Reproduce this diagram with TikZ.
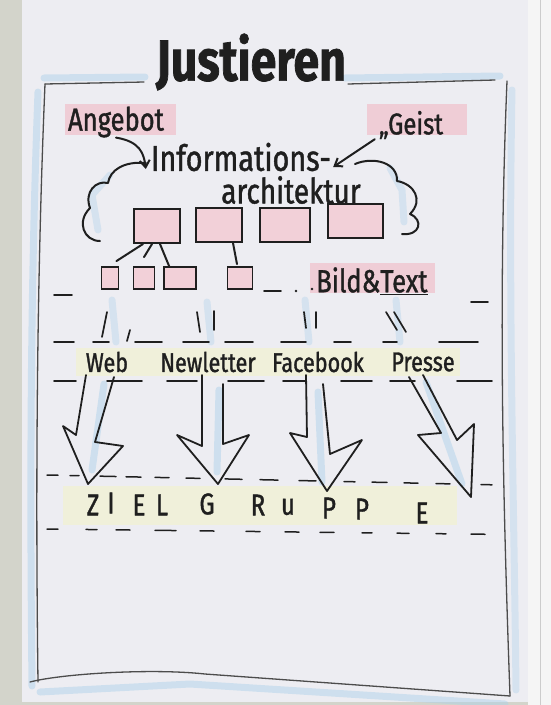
\documentclass[tikz,border=0pt]{standalone}
\usepackage{fontspec}
\usepackage{tikz}
\usetikzlibrary{positioning, arrows.meta, calc}
\newfontfamily\hand[FakeStretch=0.8, FakeBold=1.2]{Fira Sans}
\definecolor{wallc}{HTML}{D3D4CB}
\definecolor{paperc}{HTML}{EDEDF2}
\definecolor{inkc}{HTML}{1F1F1F}
\definecolor{pinkhl}{HTML}{F0C6D0}
\definecolor{boxpink}{HTML}{F2D0D8}
\definecolor{markblue}{HTML}{A9D0EA}
\definecolor{yellowhl}{HTML}{F0F0DA}
\definecolor{boardc}{HTML}{F5F5F5}

\begin{document}
\begin{tikzpicture}[x=1pt, y=-1pt,
  ink/.style={draw=inkc, line width=2pt, line cap=round, line join=round},
  frameln/.style={draw=inkc!80, line width=1.3pt, line cap=round, line join=round},
  dsh/.style={draw=inkc, line width=1.8pt, line cap=round},
  bluemk/.style={draw=markblue, line width=7pt, line cap=round, opacity=.45},
  hl/.style={fill=pinkhl, draw=none, opacity=.8},
  yl/.style={fill=yellowhl, draw=none},
  txt/.style={text=inkc, inner sep=0pt},
  lbl/.style={txt, font=\hand\fontsize{27}{27}\selectfont},
  zl/.style={txt, font=\hand\fontsize{30}{30}\selectfont},
  bigbox/.style={draw=inkc, line width=2pt, fill=boxpink, minimum width=46pt, minimum height=34pt, inner sep=0pt},
  smallbox/.style={draw=inkc, line width=1.8pt, fill=boxpink, minimum width=17pt, minimum height=22pt, inner sep=0pt},
  barb/.style={ink, -{Straight Barb[length=7pt, width=10pt]}},
  bigarr/.style={ink, line width=1.8pt}]
\useasboundingbox (0,0) rectangle (551,705);
% --- wall, paper, board ---
\fill[wallc] (0,0) rectangle (551,705);
\fill[paperc] (22,0) rectangle (528,702);
\fill[boardc] (528,0) rectangle (551,705);
\draw[gray!40, line width=1pt] (540,0) -- (540,705);
% --- blue glow round the frame ---
\draw[bluemk] (38,92) .. controls (30,300) and (30,500) .. (32,686);
\draw[bluemk] (44,78) -- (145,77);
\draw[bluemk] (345,78) -- (500,76);
\draw[bluemk] (40,692) -- (190,684) -- (505,704);
\draw[bluemk, opacity=.35] (512,90) .. controls (508,300) and (514,500) .. (516,690);
% --- highlights ---
\fill[hl] (65,104) rectangle (176,135);
\fill[hl] (367,104) rectangle (467,135);
\fill[hl] (310,263) rectangle (435,293);
\fill[yl] (76,348) rectangle (460,376);
\fill[yl] (63,486) rectangle (457,525);
% --- frame ---
\draw[frameln] (45,84) -- (144,82);
\draw[frameln] (348,84) -- (495,80);
\draw[frameln] (45,84) .. controls (38,250) and (35,450) .. (38,682);
\draw[frameln] (507,81) .. controls (498,300) and (503,500) .. (510,696);
\draw[frameln] (30,682) .. controls (60,674) and (150,668) .. (205,674) -- (510,696);
% --- title ---
\node[txt, font=\hand\bfseries\fontsize{58}{58}\selectfont] (title) at (251,62) {Justieren};
% --- cloud ---
\draw[bluemk, opacity=.35] (98,230) -- (92,195) -- (110,175);
\draw[bluemk, opacity=.35] (390,168) -- (402,190) -- (404,222);
\draw[ink] (100,241) .. controls (84,241) and (76,222) .. (90,208)
  .. controls (84,192) and (96,180) .. (108,183)
  .. controls (110,170) and (124,161) .. (146,163);
\draw[ink] (355,164) .. controls (374,156) and (398,163) .. (397,181)
  .. controls (414,184) and (424,200) .. (410,214)
  .. controls (424,220) and (420,236) .. (402,234);
% --- labels at the top ---
\node[txt, font=\hand\fontsize{32}{32}\selectfont] (angebot) at (116,122) {Angebot};
\node[txt, font=\hand\fontsize{30}{30}\selectfont] (geist) at (411,125) {„Geist};
\node[txt, font=\hand\fontsize{36}{36}\selectfont] (info) at (241,157) {Informations-};
\node[txt, font=\hand\fontsize{35}{35}\selectfont] (archi) at (291,190) {architektur};
\draw[barb] (angebot.south) .. controls +(24,4) and +(-2,-16) .. ([shift={(-5pt,-12pt)}]info.west);
\draw[barb] ([xshift=-4pt]geist.south west) -- ([shift={(2pt,-10pt)}]info.east);
% --- boxes ---
\node[bigbox] (b1) at (157,226) {};
\node[bigbox] (b2) at (219,225) {};
\node[bigbox, minimum width=50pt] (b3) at (285,225) {};
\node[bigbox, minimum width=55pt] (b4) at (355,221) {};
\node[smallbox] (s1) at (110,278) {};
\node[smallbox, minimum width=21pt] (s2) at (144,278) {};
\node[smallbox, minimum width=32pt] (s3) at (180,278) {};
\node[smallbox, minimum width=25pt] (s4) at (240,278) {};
\draw[ink] ([xshift=-14pt]b1.south) -- ([shift={(-3pt,5pt)}]s1.north east);
\draw[ink] ([xshift=-5pt]b1.south) -- ([yshift=9pt]s2.north);
\draw[ink] ([xshift=3pt]b1.south) -- ([xshift=6pt]s3.north west);
\draw[ink] ([xshift=-10pt]b2.south east) -- ([shift={(-3pt,2pt)}]s4.north);
% --- Bild & Text ---
\node[txt, font=\hand\fontsize{32}{32}\selectfont, anchor=west] (bild) at (316,281) {Bild\&\underline{Text}};
\fill[inkc] (296,291) circle (1.3pt) (312,289) circle (1.3pt);
\draw[dsh] (54,295) -- (72,295);
\draw[dsh] (264,291) -- (281,291);
\draw[dsh] (471,302) -- (488,302);
% --- ticks under the boxes ---
\foreach \a/\b in {112/300, 207/302, 305/300, 396/300}
  \draw[bluemk, opacity=.35] (\a,\b) -- (\a+4,342);
\foreach \xa/\ya/\xb/\yb in {107/312/102/337, 130/330/127/341, 197/312/200/332, 214/311/214/330,
  304/312/306/328, 316/312/316/328, 386/312/397/330, 394/312/406/332}
  \draw[ink, line width=1.7pt] (\xa,\ya) -- (\xb,\yb);
% --- dashed rows ---
\foreach \a/\b in {54/74, 93/109, 135/162, 183/209, 225/253, 281/306, 334/351, 383/397, 439/478}
  \draw[dsh] (\a,342) -- (\b,342);
\foreach \a/\b in {54/76, 107/142, 167/197, 228/264, 283/306, 341/372, 390/415, 457/492}
  \draw[dsh] (\a,381) -- (\b,381);
% --- channels ---
\node[lbl] (web) at (107,362) {Web};
\node[lbl] (newsl) at (208,362) {Newletter};
\node[lbl] (fb) at (318,362) {Facebook};
\node[lbl] (presse) at (423,362) {Presse};
% --- big arrows ---
\draw[bluemk] (104,384) -- (92,470);
\draw[bluemk] (219,390) -- (217,472);
\draw[bluemk] (318,392) -- (322,482);
\draw[bluemk] (426,382) -- (462,484);
\draw[bigarr] (86,375) -- (76,435) -- (63,426) -- (88,484) -- (123,446) -- (95,442) -- (114,377);
\draw[bigarr] (202,375) -- (202,446) -- (177,435) -- (218,484) -- (249,435) -- (223,444) -- (223,384);
\draw[bigarr] (306,375) -- (307,437) -- (290,433) -- (327,491) -- (362,440) -- (330,454) -- (323,384);
\draw[bigarr] (409,377) -- (441,433) -- (418,435) -- (471,497) -- (474,424) -- (457,440) -- (423,375);
% --- target group ---
\foreach \a/\b in {47/58, 70/79, 100/116, 126/141, 155/169, 186/200, 225/242, 260/278, 299/316, 344/355, 372/387, 404/418, 436/450, 481/492}
  \draw[dsh, line width=1.5pt] (\a,{475+(\a-47)*0.022}) -- (\b,{475+(\b-47)*0.022});
\foreach \c/\x/\y [count=\i] in {Z/93/505, I/111/503, E/139/505, L/162/505, G/207/504, R/258/505, u/288/507, P/329/508, P/362/509, E/422/513}
  \node[zl] (z\i) at (\x,\y) {\c};
\foreach \a/\b in {47/58, 86/97, 116/130, 155/176, 200/214, 246/260, 285/299, 320/334, 362/372, 397/409, 436/446, 471/485}
  \draw[dsh, line width=1.5pt] (\a,{529+(\a-47)*0.012}) -- (\b,{529+(\b-47)*0.012});
\end{tikzpicture}
\end{document}
